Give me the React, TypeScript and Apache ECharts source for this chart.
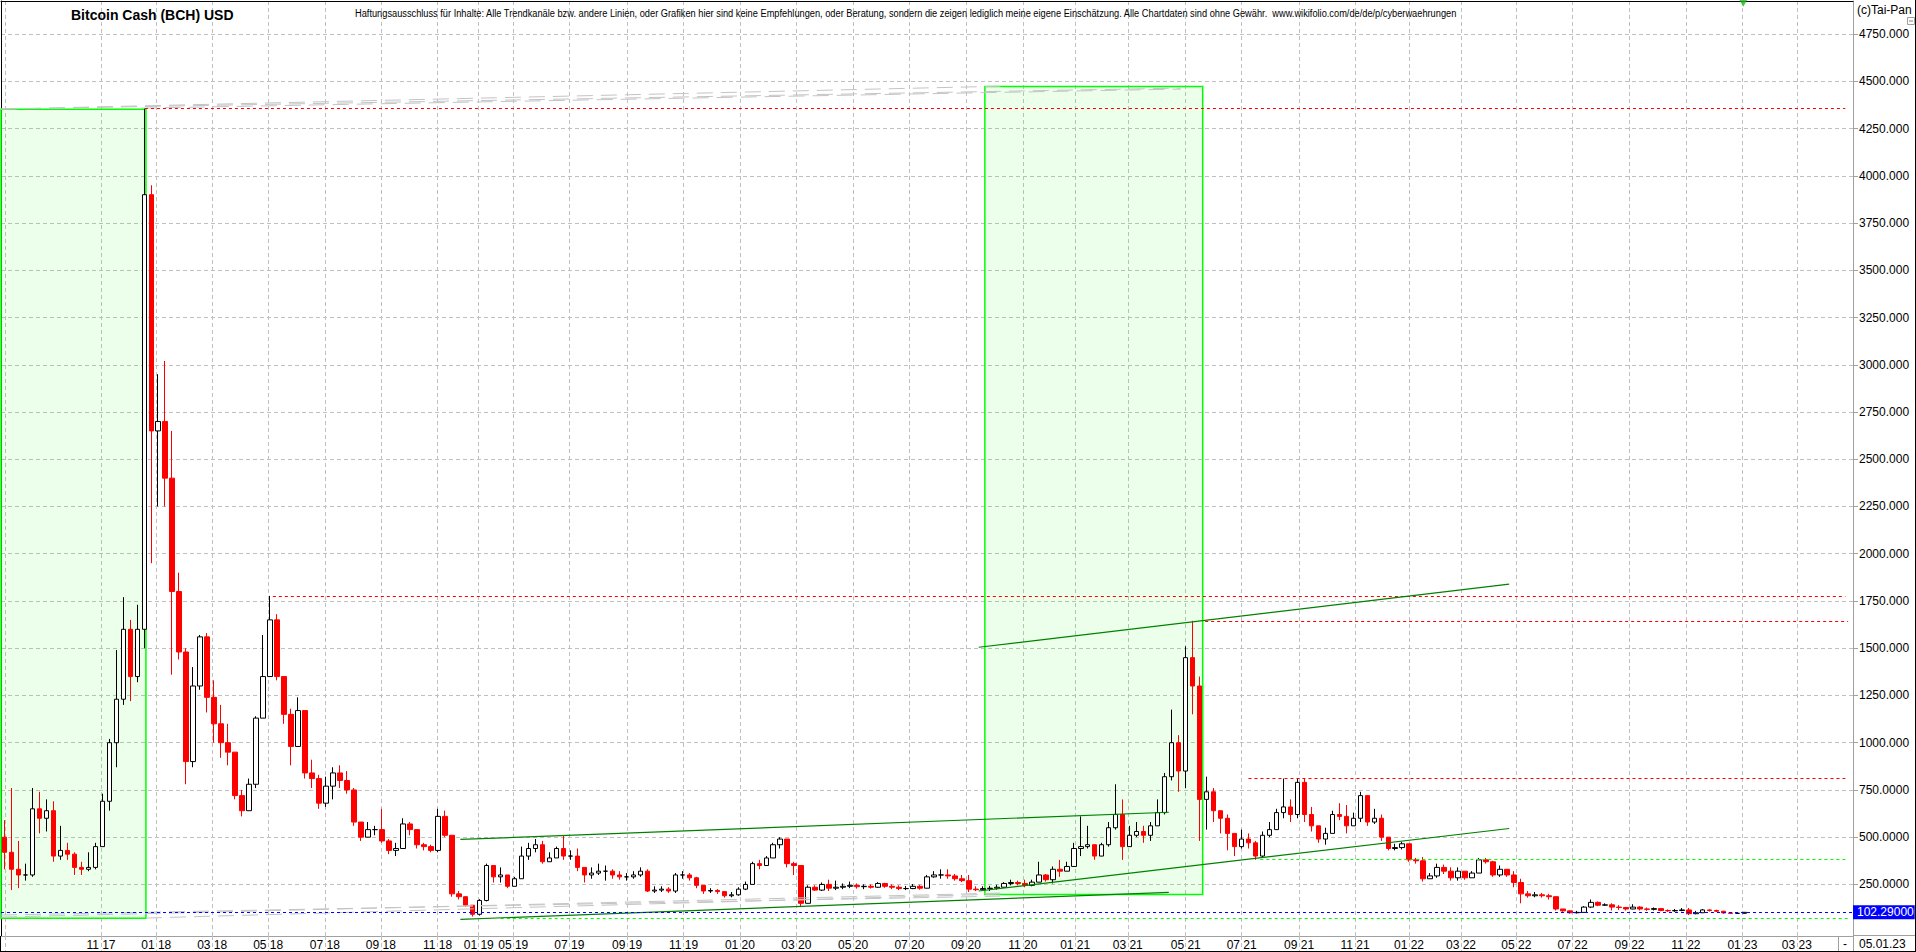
import React, { useEffect, useRef } from "react";
import * as echarts from "echarts";

// ---- price data (one candle per ~quarter month; open = previous close) ----
const closes = [
  420, 330, 300, 300, 650, 600, 640, 400, 430, 410,
  340, 330, 340, 450, 690, 1000, 1230, 1600, 1350, 1600,
  3900, 2650, 2700, 2400, 1800, 1480, 900, 1300, 1560, 1240,
  1100, 1000, 950, 720, 640, 780, 1130, 1350, 1650, 1350,
  1150, 980, 1170, 840, 810, 680, 770, 840, 800, 750,
  580, 500, 540, 540, 480, 430, 440, 570, 540, 460,
  450, 430, 610, 510, 200, 185, 140, 92, 165, 350,
  290, 300, 240, 280, 400, 440, 460, 370, 390, 440,
  400, 400, 340, 300, 310, 320, 320, 300, 290, 290,
  300, 320, 215, 220, 225, 215, 300, 300, 285, 245,
  215, 218, 212, 190, 195, 225, 250, 360, 350, 390,
  460, 490, 360, 350, 150, 235, 220, 250, 230, 235,
  240, 245, 238, 240, 235, 255, 240, 235, 228, 228,
  240, 230, 290, 300, 300, 295, 280, 270, 225, 222,
  228, 230, 235, 255, 260, 255, 245, 262, 300, 275,
  330, 320, 345, 440, 450, 460, 400, 460, 550, 620,
  450, 510, 530, 510, 560, 630, 820, 1000, 850, 1450,
  1300, 700, 740, 640, 600, 520, 450, 490, 470, 400,
  510, 540, 630, 660, 620, 790, 620, 560, 490, 520,
  620, 610, 560, 600, 720, 580, 600, 500, 440, 445,
  465, 380, 375, 280, 295, 340, 320, 285, 320, 285,
  310, 380, 370, 300, 330, 300, 260, 200, 190, 195,
  190, 185, 120, 110, 100, 102, 130, 155, 140, 142,
  130, 128, 120, 130, 120, 118, 122, 112, 110, 112,
  115, 95, 100, 115, 112, 108, 99, 97, 97, 102.29,
];
const highs = [
  590, 760, 480, 360, 760, 740, 700, 690, 560, 470,
  420, 370, 420, 470, 730, 1020, 1490, 1770, 1650, 1730,
  4357, 3950, 2950, 3020, 2650, 1900, 1500, 1400, 1570, 1580,
  1330, 1200, 1100, 920, 750, 810, 1140, 1570, 1777, 1680,
  1330, 1180, 1240, 980, 910, 830, 820, 870, 880, 850,
  760, 580, 580, 560, 650, 490, 470, 600, 580, 540,
  470, 460, 650, 640, 500, 215, 180, 120, 172, 360,
  340, 340, 300, 290, 450, 470, 490, 480, 420, 450,
  510, 430, 440, 340, 340, 360, 350, 330, 320, 310,
  320, 340, 330, 240, 240, 235, 310, 320, 310, 290,
  240, 230, 225, 215, 210, 235, 265, 370, 380, 400,
  470, 500, 430, 370, 290, 245, 245, 260, 275, 270,
  255, 265, 255, 250, 250, 262, 258, 250, 245, 242,
  252, 248, 300, 320, 330, 330, 305, 300, 300, 240,
  240, 242, 248, 262, 275, 270, 275, 275, 370, 305,
  345, 380, 370, 470, 610, 560, 460, 470, 580, 780,
  700, 560, 580, 560, 580, 700, 840, 1175, 1040, 1510,
  1645, 1350, 820, 760, 640, 620, 520, 540, 520, 480,
  530, 580, 650, 810, 700, 810, 810, 660, 560, 550,
  640, 680, 670, 630, 740, 720, 650, 620, 480, 465,
  475, 460, 390, 395, 310, 360, 355, 340, 340, 320,
  320, 390, 390, 375, 350, 330, 320, 280, 215, 210,
  205, 200, 175, 118, 112, 110, 135, 170, 160, 150,
  150, 140, 130, 145, 135, 128, 128, 122, 118, 120,
  125, 125, 110, 120, 118, 116, 110, 102, 100, 104,
];
const lows = [
  330, 220, 230, 270, 290, 520, 530, 370, 380, 380,
  300, 300, 320, 330, 450, 640, 870, 1200, 1220, 1320,
  1500, 1950, 2250, 2250, 1360, 1440, 780, 870, 1280, 1160,
  1000, 920, 880, 700, 610, 640, 760, 1150, 1350, 1330,
  1100, 880, 1100, 810, 760, 650, 660, 700, 760, 730,
  560, 480, 500, 510, 470, 410, 400, 440, 510, 440,
  430, 420, 420, 500, 185, 170, 130, 80, 85, 160,
  260, 260, 230, 240, 340, 380, 420, 360, 370, 390,
  380, 380, 320, 260, 280, 300, 270, 280, 275, 270,
  280, 290, 210, 205, 210, 205, 205, 280, 270, 230,
  200, 205, 200, 180, 182, 190, 220, 250, 330, 350,
  400, 440, 340, 300, 130, 180, 215, 215, 215, 220,
  225, 230, 228, 225, 228, 232, 232, 225, 220, 220,
  225, 222, 230, 285, 280, 280, 270, 262, 210, 215,
  218, 215, 222, 235, 245, 245, 235, 240, 270, 265,
  255, 290, 320, 380, 400, 440, 380, 400, 450, 540,
  380, 450, 500, 470, 480, 570, 620, 800, 740, 760,
  1150, 480, 540, 580, 520, 430, 400, 440, 440, 380,
  395, 500, 540, 600, 580, 600, 580, 530, 470, 460,
  520, 590, 520, 570, 580, 560, 570, 480, 430, 430,
  435, 370, 360, 265, 280, 285, 305, 270, 270, 275,
  285, 320, 360, 290, 290, 290, 235, 150, 180, 182,
  180, 170, 112, 105, 95, 96, 102, 125, 135, 136,
  112, 115, 112, 118, 112, 110, 112, 108, 105, 105,
  108, 88, 92, 100, 106, 104, 95, 93, 94, 96,
];
const firstOpen = 500;
const lastPrice = 102.29;
const lastPriceText = "102.29000";
const lastDateText = "05.01.23";

// ---- axis ticks (positions in candle units) ----
const monthTickPos = [
  13.8, 21.71, 29.72, 37.73, 45.84, 53.85, 61.96, 67.86, 72.8, 80.82,
  89.09, 97.17, 105.23, 113.3, 121.43, 129.49, 137.57, 145.71, 153.2, 160.73,
  169.02, 177.03, 185.24, 193.25, 200.97, 208.41, 216.32, 224.37, 232.52, 240.59,
  248.68, 256.46,
];
const monthTickLabels = [
  "11 17", "01 18", "03 18", "05 18", "07 18", "09 18", "11 18", "01 19", "05 19", "07 19",
  "09 19", "11 19", "01 20", "03 20", "05 20", "07 20", "09 20", "11 20", "01 21", "03 21",
  "05 21", "07 21", "09 21", "11 21", "01 22", "03 22", "05 22", "07 22", "09 22", "11 22",
  "01 23", "03 23",
];
const firstGridPos = 0.07;
const yTickValues = [
  250, 500, 750, 1000, 1250, 1500, 1750, 2000, 2250, 2500,
  2750, 3000, 3250, 3500, 3750, 4000, 4250, 4500, 4750,
];

// ---- drawn levels / trend lines / zones (values) ----
const redLevels = [4357, 1777, 1645, 810];
const redStarts = [20.1, 38.4, 171.8, 178.0];
const redEnds = [263.4, 263.4, 263.8, 263.4];
const greenLevels = [382, 70];
const greenStarts = [179.7, 71.0];
const greenEnds = [263.8, 263.8];
const trendLines = [
  [65.23, 65, 166.6, 208],
  [65.23, 488, 166.6, 632],
  [139.4, 215, 215.3, 546],
  [139.4, 1505, 215.3, 1839],
];
const fanLines = [
  [-0.5, 4353, 142.5, 4474],
  [-0.5, 4353, 168.3, 4464],
  [19.5, 4358, 168.3, 4459],
  [-0.5, 77, 142.5, 204],
  [-0.5, 88, 142.5, 188],
  [20.24, 72, 142.5, 199],
];
const zones = [
  [-0.5, 71, 20.24, 4352],
  [140.28, 197, 171.45, 4473],
];
const signalMarker = [248.8, 4913];

const titleText = "Bitcoin Cash (BCH) USD";
const disclaimer =
  "Haftungsausschluss für Inhalte: Alle Trendkanäle bzw. andere Linien, oder Grafiken hier sind keine Empfehlungen, oder Beratung, sondern die zeigen lediglich meine eigene Einschätzung. Alle Chartdaten sind ohne Gewähr.  www.wikifolio.com/de/de/p/cyberwaehrungen";
const copyright = "(c)Tai-Pan";

const FONT = '"Liberation Sans", Arial, sans-serif';

function buildOption() {
  const candles = closes.map((c, i) => {
    const o = i === 0 ? firstOpen : closes[i - 1];
    const h = Math.max(highs[i], o, c);
    const l = Math.min(lows[i], o, c);
    return [i, o, c, l, h];
  });

  const seg = (x1: number, y1: number, x2: number, y2: number) => [
    { coord: [x1, y1] },
    { coord: [x2, y2] },
  ];

  const ctx = document.createElement("canvas").getContext("2d")!;
  ctx.font = '11px "Liberation Sans"';
  const dw = ctx.measureText(disclaimer).width || 1100;
  const disclaimerScale = 1103 / dw;

  const markLineBase = {
    silent: true,
    symbol: ["none", "none"],
    label: { show: false },
    emphasis: { disabled: true },
    animation: false,
  };

  const lineSeries = (name: string, data: any[], lineStyle: any, extra: any = {}) => ({
    name,
    type: "line",
    xAxisIndex: 0,
    yAxisIndex: 0,
    data: [],
    silent: true,
    markLine: { ...markLineBase, lineStyle, data, ...extra },
  });

  const txt = (text: string, x: number, y: number, font: string, extra: any = {}) => ({
    type: "text",
    x,
    y,
    z: 100,
    silent: true,
    ...extra,
    style: {
      text,
      fill: "#000",
      font,
      align: "left",
      verticalAlign: "middle",
      textAlign: "left",
      textVerticalAlign: "middle",
    },
  });

  const ln = (x1: number, y1: number, x2: number, y2: number, stroke: string) => ({
    type: "line",
    z: 100,
    silent: true,
    shape: { x1, y1, x2, y2 },
    style: { stroke, lineWidth: 1 },
  });

  return {
    animation: false,
    backgroundColor: "#ffffff",
    grid: { left: 1, right: 63, top: 1, bottom: 16, containLabel: false },
    xAxis: [
      {
        type: "value",
        min: -0.5,
        max: 264.5,
        position: "bottom",
        axisLine: { show: true, onZero: false, lineStyle: { color: "#a0a0a0", width: 1 } },
        axisTick: {
          show: true,
          customValues: [firstGridPos, ...monthTickPos],
          length: 16,
          inside: false,
          lineStyle: { color: "#c0c0c0", type: [4, 3], width: 1 },
        },
        axisLabel: {
          show: true,
          customValues: monthTickPos,
          formatter: (v: number) => {
            let best = 0;
            for (let i = 1; i < monthTickPos.length; i++) {
              if (Math.abs(monthTickPos[i] - v) < Math.abs(monthTickPos[best] - v)) best = i;
            }
            return monthTickLabels[best];
          },
          color: "#000",
          fontFamily: FONT,
          fontSize: 12,
          margin: 3,
        },
        splitLine: { show: true, lineStyle: { color: "#c0c0c0", type: [4, 3], width: 1 } },
      },
      {
        type: "value",
        min: 0,
        max: 1,
        position: "top",
        axisLine: { show: true, onZero: false, lineStyle: { color: "#000", width: 1 } },
        axisTick: { show: false },
        axisLabel: { show: false },
        splitLine: { show: false },
      },
    ],
    yAxis: [
      {
        type: "value",
        position: "right",
        min: -23,
        max: 4925,
        axisLine: { show: true, onZero: false, lineStyle: { color: "#a0a0a0", width: 1 } },
        axisTick: {
          show: true,
          customValues: yTickValues,
          length: 5,
          inside: false,
          lineStyle: { color: "#a0a0a0" },
        },
        axisLabel: {
          show: true,
          customValues: yTickValues,
          formatter: (v: number) => (v >= 1000 ? v.toFixed(3) : v.toFixed(4)),
          color: "#000",
          fontFamily: FONT,
          fontSize: 12,
          margin: 6,
        },
        splitLine: { show: true, lineStyle: { color: "#c0c0c0", type: [4, 3], width: 1 } },
      },
      {
        type: "value",
        position: "left",
        min: 0,
        max: 1,
        axisLine: { show: true, onZero: false, lineStyle: { color: "#000", width: 1 } },
        axisTick: { show: false },
        axisLabel: { show: false },
        splitLine: { show: false },
      },
    ],
    series: [
      {
        name: "zones",
        type: "line",
        xAxisIndex: 0,
        yAxisIndex: 0,
        data: [],
        silent: true,
        markArea: {
          silent: true,
          emphasis: { disabled: true },
          itemStyle: { color: "rgba(0,255,0,0.08)", borderColor: "#00ff00", borderWidth: 1.5 },
          label: { show: false },
          data: zones.map((z) => [
            { coord: [z[0], z[1]] },
            { coord: [z[2], z[3]] },
          ]),
        },
      },
      {
        name: "BCH",
        type: "candlestick",
        xAxisIndex: 0,
        yAxisIndex: 0,
        encode: { x: 0, y: [1, 2, 3, 4] },
        data: candles,
        barWidth: 5,
        silent: true,
        z: 3,
        itemStyle: {
          color: "#ffffff",
          color0: "#ff0000",
          borderColor: "#000000",
          borderColor0: "#ff0000",
          borderWidth: 1,
        },
      },
      lineSeries(
        "fan",
        fanLines.map((l) => seg(l[0], l[1], l[2], l[3])),
        { color: "#c4c4c4", type: [16, 8], width: 1 }
      ),
      lineSeries(
        "red levels",
        redLevels.map((y, i) => seg(redStarts[i], y, redEnds[i], y)),
        { color: "#ff0000", type: [3, 3], width: 1 }
      ),
      lineSeries(
        "green levels",
        greenLevels.map((y, i) => seg(greenStarts[i], y, greenEnds[i], y)),
        { color: "#00ff00", type: [3, 3], width: 1.2 }
      ),
      lineSeries(
        "trend",
        trendLines.map((l) => seg(l[0], l[1], l[2], l[3])),
        { color: "#008000", type: "solid", width: 1.2 }
      ),
      lineSeries(
        "last",
        [
          [
            {
              coord: [-0.5, lastPrice],
              label: {
                show: true,
                position: "end",
                formatter: lastPriceText,
                color: "#ffffff",
                backgroundColor: "#0000ff",
                padding: [1, 1, 1, 4],
                distance: 0,
                fontFamily: FONT,
                fontSize: 12,
              },
            },
            { coord: [264.5, lastPrice] },
          ],
        ],
        { color: "#0000ff", type: [3, 3], width: 1 }
      ),
      {
        name: "signal",
        type: "scatter",
        xAxisIndex: 0,
        yAxisIndex: 0,
        data: [signalMarker],
        symbol: "triangle",
        symbolRotate: 180,
        symbolSize: [8, 7],
        clip: false,
        silent: true,
        itemStyle: { color: "#22b822" },
        z: 6,
      },
    ],
    graphic: {
      elements: [
        txt(titleText, 71, 15, 'bold 14px "Liberation Sans", Arial, sans-serif'),
        txt(disclaimer, 355, 13.5, '11px "Liberation Sans", Arial, sans-serif', {
          scaleX: disclaimerScale,
        }),
        txt(copyright, 1857, 10, '12px "Liberation Sans", Arial, sans-serif'),
        {
          type: "rect",
          z: 100,
          silent: true,
          shape: { x: 1907.5, y: 17.5, width: 7, height: 7 },
          style: { fill: "#fff", stroke: "#a0a0a0", lineWidth: 1 },
        },
        ln(1909, 21, 1913, 21, "#808080"),
        ln(1853.5, 936, 1853.5, 952, "#a0a0a0"),
        ln(1853, 935.5, 1916, 935.5, "#a0a0a0"),
        ln(1838.5, 936, 1838.5, 952, "#a0a0a0"),
        txt("-", 1843, 944, '12px "Liberation Sans", Arial, sans-serif'),
        txt(lastDateText, 1859, 944, '12px "Liberation Sans", Arial, sans-serif'),
        ln(1915.5, 0, 1915.5, 952, "#000"),
        ln(0, 951.5, 1916, 951.5, "#000"),
        ln(0.5, 936, 0.5, 952, "#000"),
      ],
    },
  };
}

export default function App() {
  const ref = useRef<HTMLDivElement>(null);
  useEffect(() => {
    const el = ref.current;
    if (!el) return;
    const chart = echarts.init(el, null, { renderer: "svg" });
    chart.setOption(buildOption() as any);
    return () => {
      chart.dispose();
    };
  }, []);
  return (
    <div
      ref={ref}
      style={{
        position: "fixed",
        left: 0,
        top: 0,
        width: 1916,
        height: 952,
        background: "#ffffff",
      }}
    />
  );
}
